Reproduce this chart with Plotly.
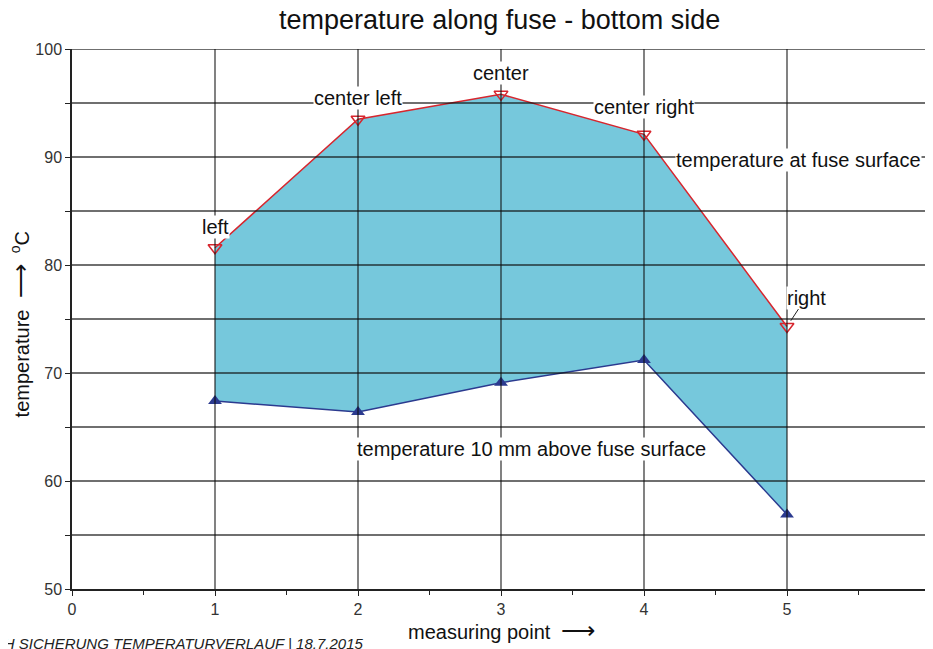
import plotly.graph_objects as go

# data
points = [1, 2, 3, 4, 5]
surface_temp = [81.6, 93.5, 95.8, 92.1, 74.3]
above_temp = [67.4, 66.4, 69.1, 71.2, 56.9]
point_labels = ["left", "center left", "center", "center right", "right"]
label_y = [83.5, 95.5, 97.8, 94.6, 76.9]
x_ticks = [0, 1, 2, 3, 4, 5, 6]
y_ticks = [50, 60, 70, 80, 90, 100]
y_grid = [55, 60, 65, 70, 75, 80, 85, 90, 95, 100]
x_grid = [1, 2, 3, 4, 5, 6]

FONT = "Liberation Sans, Arial, sans-serif"

fig = go.Figure()
fig.add_trace(go.Scatter(
    x=points, y=above_temp, mode="lines+markers",
    line=dict(color="#2B3A8F", width=1.5),
    marker=dict(symbol="triangle-up", size=12, color="#2B3A8F"),
    showlegend=False, hoverinfo="skip"))
fig.add_trace(go.Scatter(
    x=points, y=surface_temp, mode="lines+markers",
    fill="tonexty", fillcolor="#76C8DC",
    line=dict(color="#D7262E", width=1.5),
    marker=dict(symbol="triangle-down-open", size=12, color="#D7262E",
                line=dict(width=1.5, color="#D7262E")),
    showlegend=False, hoverinfo="skip"))

grid_col = "rgba(15,15,15,0.8)"
for gy in y_grid:
    fig.add_shape(type="line", xref="x", yref="y", x0=0, x1=6, y0=gy, y1=gy,
                  line=dict(color=grid_col, width=1.3), layer="above")
for gx in x_grid:
    fig.add_shape(type="line", xref="x", yref="y", x0=gx, x1=gx, y0=50, y1=100,
                  line=dict(color=grid_col, width=1.3), layer="above")

LBL = dict(family=FONT, size=20, color="#111")
for i, (px, lbl, ly) in enumerate(zip(points, point_labels, label_y)):
    if lbl == "right":
        fig.add_annotation(x=px, y=surface_temp[i], text=lbl, showarrow=True,
                           ax=19, ay=-29, arrowhead=0, arrowwidth=1,
                           arrowcolor="#222", standoff=7,
                           font=LBL, bgcolor="white", borderpad=0)
    else:
        fig.add_annotation(x=px, y=ly, text=lbl, showarrow=False,
                           font=LBL, bgcolor="white", borderpad=0)

fig.add_annotation(x=5.08, y=89.7, text="temperature at fuse surface", showarrow=False,
                   font=LBL, bgcolor="white", borderpad=0)
fig.add_annotation(x=3.21, y=63.0, text="temperature 10 mm above fuse surface", showarrow=False,
                   font=LBL, bgcolor="white", borderpad=0)

# axis titles
fig.add_annotation(xref="paper", yref="paper", x=0.5, y=-0.076, yanchor="middle",
                   text="measuring point  <span style='font-size:24px'>⟶</span>", showarrow=False,
                   font=dict(family=FONT, size=20, color="#111"))
fig.add_annotation(xref="paper", yref="paper", x=-0.0606, y=0.49, textangle=-90,
                   xanchor="center", yanchor="middle",
                   text="temperature  <span style='font-size:24px'>⟶</span>  <sup>o</sup>C", showarrow=False,
                   font=dict(family=FONT, size=20, color="#111"))
fig.add_annotation(xref="paper", yref="paper", x=0.3415, y=-0.1, xanchor="right", yanchor="middle",
                   text="<i>NH SICHERUNG TEMPERATURVERLAUF | 18.7.2015</i>", showarrow=False,
                   font=dict(family=FONT, size=15, color="#222"))

fig.update_layout(
    width=933, height=649,
    margin=dict(l=64, r=11, t=41, b=68),
    paper_bgcolor="white", plot_bgcolor="white",
    title=dict(text="temperature along fuse - bottom side", x=0.527, xanchor="center",
               y=0.9815, yanchor="middle",
               font=dict(family=FONT, size=27, color="#111")),
    xaxis=dict(range=[0, 6], tickvals=x_ticks, showgrid=False, zeroline=False,
               showline=True, linecolor="#222", linewidth=1.5,
               ticks="outside", ticklen=5, tickcolor="#222",
               minor=dict(ticks="outside", dtick=0.5, ticklen=4, tickcolor="#222"),
               tickfont=dict(family=FONT, size=16, color="#333"), automargin=False),
    yaxis=dict(range=[50, 100], tickvals=y_ticks, showgrid=False, zeroline=False,
               showline=True, linecolor="#222", linewidth=1.5,
               ticks="outside", ticklen=5, tickcolor="#222",
               minor=dict(ticks="outside", dtick=5, ticklen=5, tickcolor="#222"),
               tickfont=dict(family=FONT, size=16, color="#333"), automargin=False),
)

fig.write_html("out.html")
